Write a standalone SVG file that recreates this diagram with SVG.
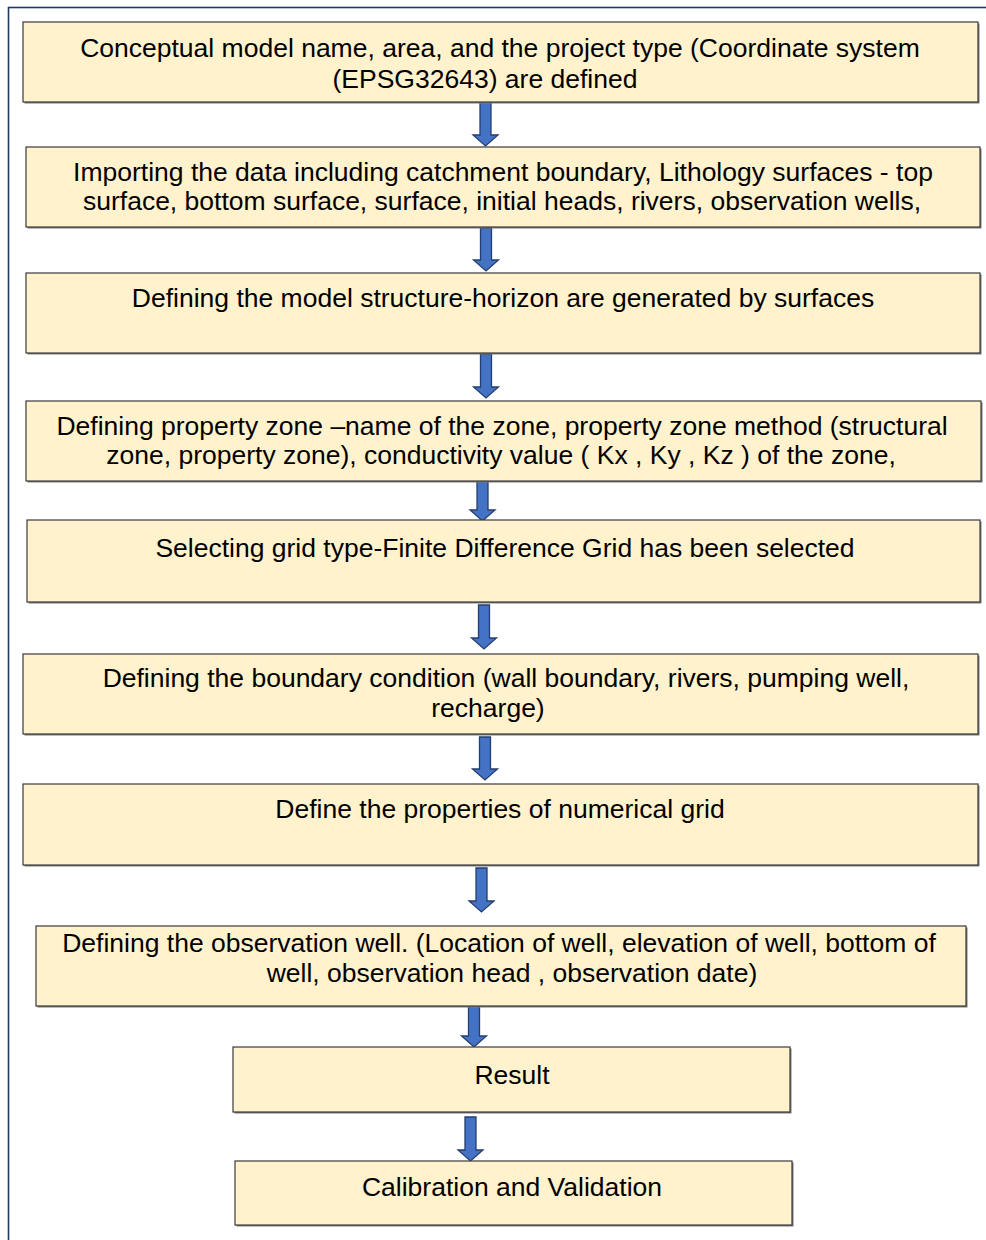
<svg xmlns="http://www.w3.org/2000/svg" width="986" height="1240" viewBox="0 0 986 1240">
  <style>
    .frame { fill: none; stroke: #203864; stroke-width: 1.6; }
    .shadow { fill: #7a7a7a; }
    .box { fill: #FFF2CC; stroke: #3a3a3a; stroke-width: 1.2; }
    .label { font-family: "Liberation Sans", Arial, sans-serif; font-size: 26.5px; fill: #000; text-anchor: middle; }
    .arrow { fill: #4472C4; stroke: #243F6E; stroke-width: 1.3; stroke-linejoin: miter; }
  </style>

  <rect width="986" height="1240" fill="#ffffff"/>
  <!-- page frame, running off the right and bottom edges -->
  <rect class="frame" x="8.5" y="7.5" width="1100" height="1400"/>

  <!-- connectors: block arrows between steps -->
  <g id="connectors">
    <path class="arrow" d="M480,102 h11 v33 h7 l-12.5,11 l-12.5,-11 h7 z"/>
    <path class="arrow" d="M480.5,228 h11 v32 h7 l-12.5,11 l-12.5,-11 h7 z"/>
    <path class="arrow" d="M480.5,354 h11 v33 h7 l-12.5,11 l-12.5,-11 h7 z"/>
    <path class="arrow" d="M477,477 h11 v33 h7 l-12.5,11 l-12.5,-11 h7 z"/>
    <path class="arrow" d="M478.5,605 h11 v33 h7 l-12.5,11 l-12.5,-11 h7 z"/>
    <path class="arrow" d="M479.5,737 h11 v32 h7 l-12.5,11 l-12.5,-11 h7 z"/>
    <path class="arrow" d="M476,868 h11 v33 h7 l-12.5,11 l-12.5,-11 h7 z"/>
    <path class="arrow" d="M468.5,1002 h11 v34 h7 l-12.5,11 l-12.5,-11 h7 z"/>
    <path class="arrow" d="M465,1117 h11 v33 h7 l-12.5,11 l-12.5,-11 h7 z"/>
  </g>

  <g id="step1">
    <rect class="shadow" x="24.5" y="23.5" width="955" height="80"/>
    <rect class="box" x="23" y="22" width="955" height="80"/>
    <text class="label" x="500" y="57">Conceptual model name, area, and the project type (Coordinate system</text>
    <text class="label" x="485" y="88">(EPSG32643) are defined</text>
  </g>

  <g id="step2">
    <rect class="shadow" x="27.5" y="148.5" width="954" height="80"/>
    <rect class="box" x="26" y="147" width="954" height="80"/>
    <text class="label" x="503" y="181">Importing the data including catchment boundary, Lithology surfaces - top</text>
    <text class="label" x="502" y="210">surface, bottom surface, surface, initial heads, rivers, observation wells,</text>
  </g>

  <g id="step3">
    <rect class="shadow" x="27.5" y="274.5" width="954" height="80"/>
    <rect class="box" x="26" y="273" width="954" height="80"/>
    <text class="label" x="503" y="307">Defining the model structure-horizon are generated by surfaces</text>
  </g>

  <g id="step4">
    <rect class="shadow" x="27.5" y="402.5" width="955" height="80"/>
    <rect class="box" x="26" y="401" width="955" height="80"/>
    <text class="label" x="502" y="435">Defining property zone –name of the zone, property zone method (structural</text>
    <text class="label" x="501" y="464">zone, property zone), conductivity value ( Kx , Ky , Kz ) of the zone,</text>
  </g>

  <g id="step5">
    <rect class="shadow" x="28.5" y="521.5" width="953" height="82"/>
    <rect class="box" x="27" y="520" width="953" height="82"/>
    <text class="label" x="505" y="557">Selecting grid type-Finite Difference Grid has been selected</text>
  </g>

  <g id="step6">
    <rect class="shadow" x="24.5" y="655.5" width="955" height="80"/>
    <rect class="box" x="23" y="654" width="955" height="80"/>
    <text class="label" x="506" y="687">Defining the boundary condition (wall boundary, rivers, pumping well,</text>
    <text class="label" x="488" y="717">recharge)</text>
  </g>

  <g id="step7">
    <rect class="shadow" x="24.5" y="785.5" width="955" height="81"/>
    <rect class="box" x="23" y="784" width="955" height="81"/>
    <text class="label" x="500" y="818">Define the properties of numerical grid</text>
  </g>

  <g id="step8">
    <rect class="shadow" x="37.5" y="927.5" width="930" height="80"/>
    <rect class="box" x="36" y="926" width="930" height="80"/>
    <text class="label" x="499" y="952">Defining the observation well. (Location of well, elevation of well, bottom of</text>
    <text class="label" x="512" y="982">well, observation head , observation date)</text>
  </g>

  <g id="result">
    <rect class="shadow" x="234.5" y="1048.5" width="557" height="65"/>
    <rect class="box" x="233" y="1047" width="557" height="65"/>
    <text class="label" x="512" y="1084">Result</text>
  </g>

  <g id="calibration">
    <rect class="shadow" x="236.5" y="1162.5" width="557" height="64"/>
    <rect class="box" x="235" y="1161" width="557" height="64"/>
    <text class="label" x="512" y="1196">Calibration and Validation</text>
  </g>
</svg>
